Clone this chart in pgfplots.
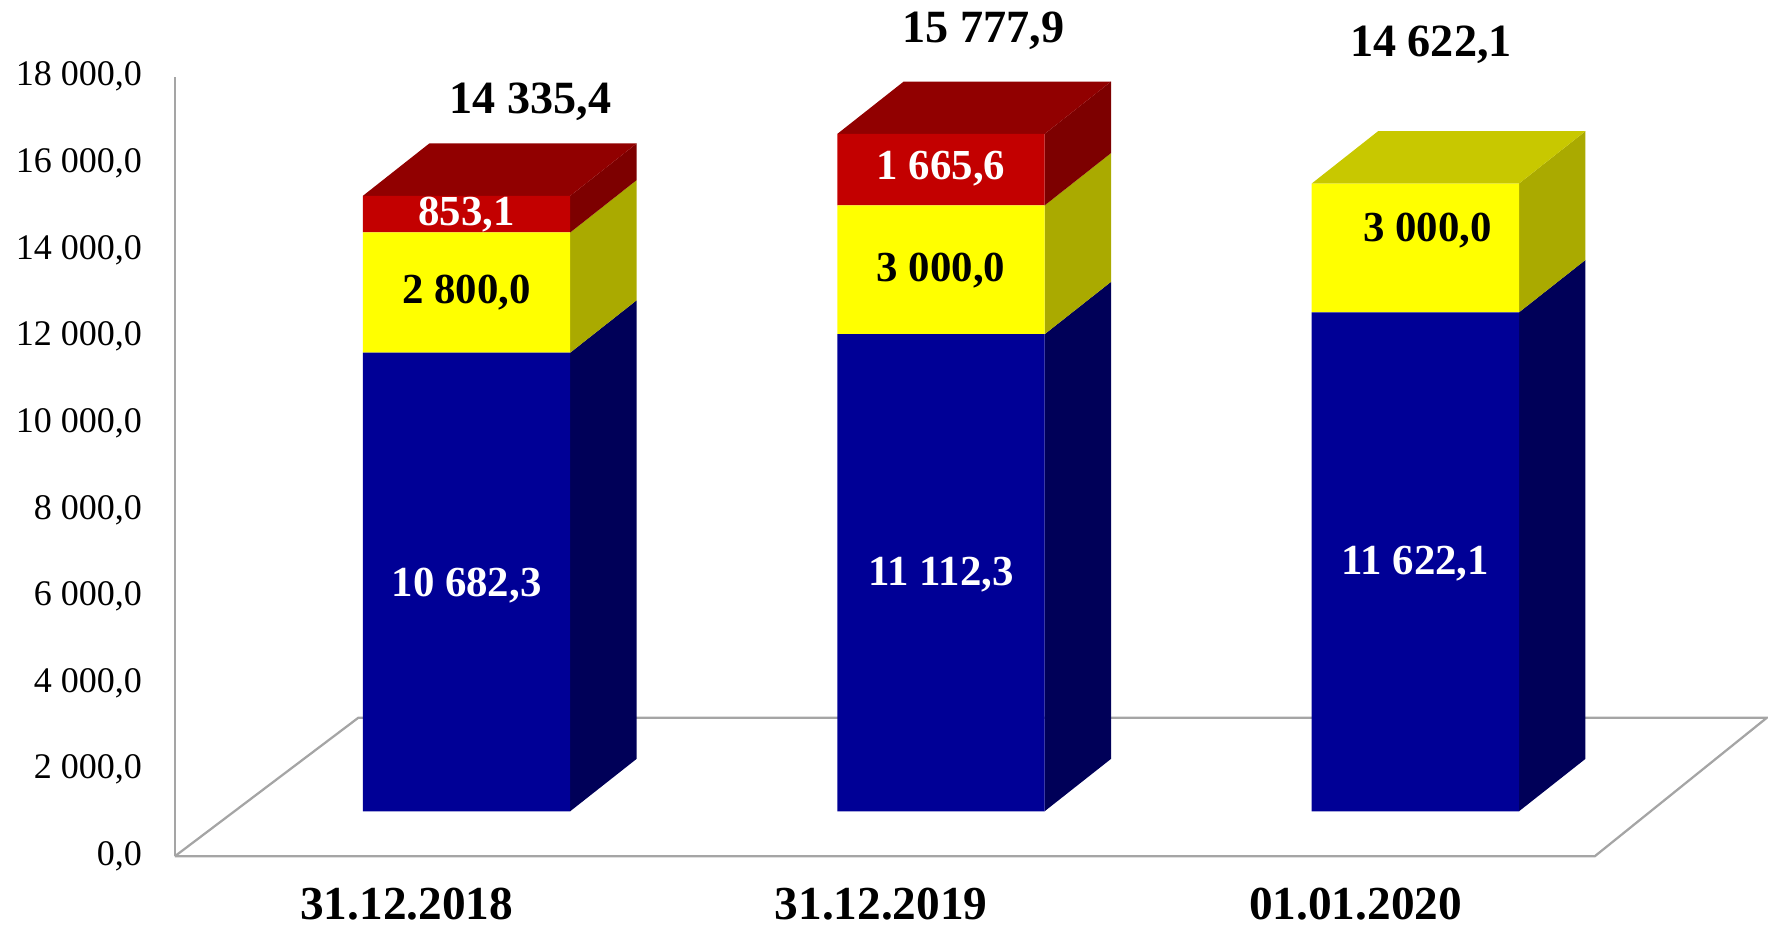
\documentclass[border=0pt]{standalone}
\usepackage{pgfplots}
\pgfplotsset{compat=1.18}
\usepackage{fontspec}
\setmainfont{Liberation Serif}
\definecolor{bluefront}{RGB}{0,0,150}
\definecolor{blueside}{RGB}{0,0,88}
\definecolor{yelfront}{RGB}{255,255,0}
\definecolor{yelside}{RGB}{170,170,0}
\definecolor{yeltop}{RGB}{200,200,0}
\definecolor{redfront}{RGB}{195,0,0}
\definecolor{redside}{RGB}{125,0,0}
\definecolor{redtop}{RGB}{145,0,0}
\definecolor{axisgray}{RGB}{165,165,165}
\pgfplotsset{base/.style={scale only axis, width=706.5pt, height=380pt,
  xmin=-0.615, xmax=2.741, ymin=-1040, ymax=18730, clip=false, enlargelimits=false},
  barscale/.style={base, hide axis, ymin=-1050, ymax=18898}}
\begin{document}
\begin{tikzpicture}
\begin{axis}[base, axis line style={draw=none}, tick style={draw=none},
  scaled y ticks=false, scaled x ticks=false,
  ytick={-1040,960,...,16960},
  yticklabels={{0,0},{2 000,0},{4 000,0},{6 000,0},{8 000,0},{10 000,0},{12 000,0},{14 000,0},{16 000,0},{18 000,0}},
  xtick={-0.126,0.874,1.874},
  xticklabels={31.12.2018,31.12.2019,01.01.2020},
  yticklabel style={font=\fontsize{16}{19}\selectfont, anchor=east, xshift=-11pt},
  xticklabel style={font=\bfseries\fontsize{21}{25}\selectfont, anchor=base, inner sep=0pt, yshift=-28pt}]
% invisible frame fixing the picture's size
\path (axis cs:-0.9834,-2731) rectangle (axis cs:2.741,18730);
% floor and vertical axis
\addplot[axisgray, line width=1pt, mark=none] coordinates {(-0.615,-1040) (2.378,-1040) (2.741,2160) (-0.228,2160) (-0.615,-1040)};
\addplot[axisgray, line width=1pt, mark=none] coordinates {(-0.615,-1040) (-0.615,16960)};
\end{axis}
% side and top faces
\begin{axis}[barscale]
\addplot[fill=blueside, draw=none, mark=none] coordinates {(0.2185,0) (0.3585,1220) (0.3585,11902.3) (0.2185,10682.3)};
\addplot[fill=yelside, draw=none, mark=none] coordinates {(0.2185,10682.3) (0.3585,11902.3) (0.3585,14702.3) (0.2185,13482.3)};
\addplot[fill=redside, draw=none, mark=none] coordinates {(0.2185,13482.3) (0.3585,14702.3) (0.3585,15555.4) (0.2185,14335.4)};
\addplot[fill=redtop, draw=none, mark=none] coordinates {(-0.2185,14335.4) (-0.0785,15555.4) (0.3585,15555.4) (0.2185,14335.4)};
\addplot[fill=blueside, draw=none, mark=none] coordinates {(1.2185,0) (1.3585,1220) (1.3585,12332.3) (1.2185,11112.3)};
\addplot[fill=yelside, draw=none, mark=none] coordinates {(1.2185,11112.3) (1.3585,12332.3) (1.3585,15332.3) (1.2185,14112.3)};
\addplot[fill=redside, draw=none, mark=none] coordinates {(1.2185,14112.3) (1.3585,15332.3) (1.3585,16997.9) (1.2185,15777.9)};
\addplot[fill=redtop, draw=none, mark=none] coordinates {(0.7815,15777.9) (0.9215,16997.9) (1.3585,16997.9) (1.2185,15777.9)};
\addplot[fill=blueside, draw=none, mark=none] coordinates {(2.2185,0) (2.3585,1220) (2.3585,12842.1) (2.2185,11622.1)};
\addplot[fill=yelside, draw=none, mark=none] coordinates {(2.2185,11622.1) (2.3585,12842.1) (2.3585,15842.1) (2.2185,14622.1)};
\addplot[fill=yeltop, draw=none, mark=none] coordinates {(1.7815,14622.1) (1.9215,15842.1) (2.3585,15842.1) (2.2185,14622.1)};
\end{axis}
% front faces
\begin{axis}[barscale, ybar stacked, bar width=0.437]
\addplot[fill=bluefront, draw=none] coordinates {(0,10682.3) (1,11112.3) (2,11622.1)};
\addplot[fill=yelfront, draw=none] coordinates {(0,2800.0) (1,3000.0) (2,3000.0)};
\addplot[fill=redfront, draw=none] coordinates {(0,853.1) (1,1665.6) (2,0)};
\end{axis}
% data labels
\begin{axis}[barscale]
\node[font=\bfseries\fontsize{19}{22}\selectfont, text=white] at (axis cs:0,5249) {10 682,3};
\node[font=\bfseries\fontsize{19}{22}\selectfont, text=black] at (axis cs:0,12073) {2 800,0};
\node[font=\bfseries\fontsize{19}{22}\selectfont, text=white] at (axis cs:0,13892) {853,1};
\node[font=\bfseries\fontsize{19}{22}\selectfont, text=white] at (axis cs:1,5512) {11 112,3};
\node[font=\bfseries\fontsize{19}{22}\selectfont, text=black] at (axis cs:1,12598) {3 000,0};
\node[font=\bfseries\fontsize{19}{22}\selectfont, text=white] at (axis cs:1,14961) {1 665,6};
\node[font=\bfseries\fontsize{19}{22}\selectfont, text=white] at (axis cs:2,5774) {11 622,1};
\node[font=\bfseries\fontsize{19}{22}\selectfont, text=black] at (axis cs:2.026,13517) {3 000,0};
\node[font=\bfseries\fontsize{20.5}{24}\selectfont] at (axis cs:0.135,16535) {14 335,4};
\node[font=\bfseries\fontsize{20.5}{24}\selectfont] at (axis cs:1.09,18189) {15 777,9};
\node[font=\bfseries\fontsize{20.5}{24}\selectfont] at (axis cs:2.033,17848) {14 622,1};
\end{axis}
\end{tikzpicture}
\end{document}
